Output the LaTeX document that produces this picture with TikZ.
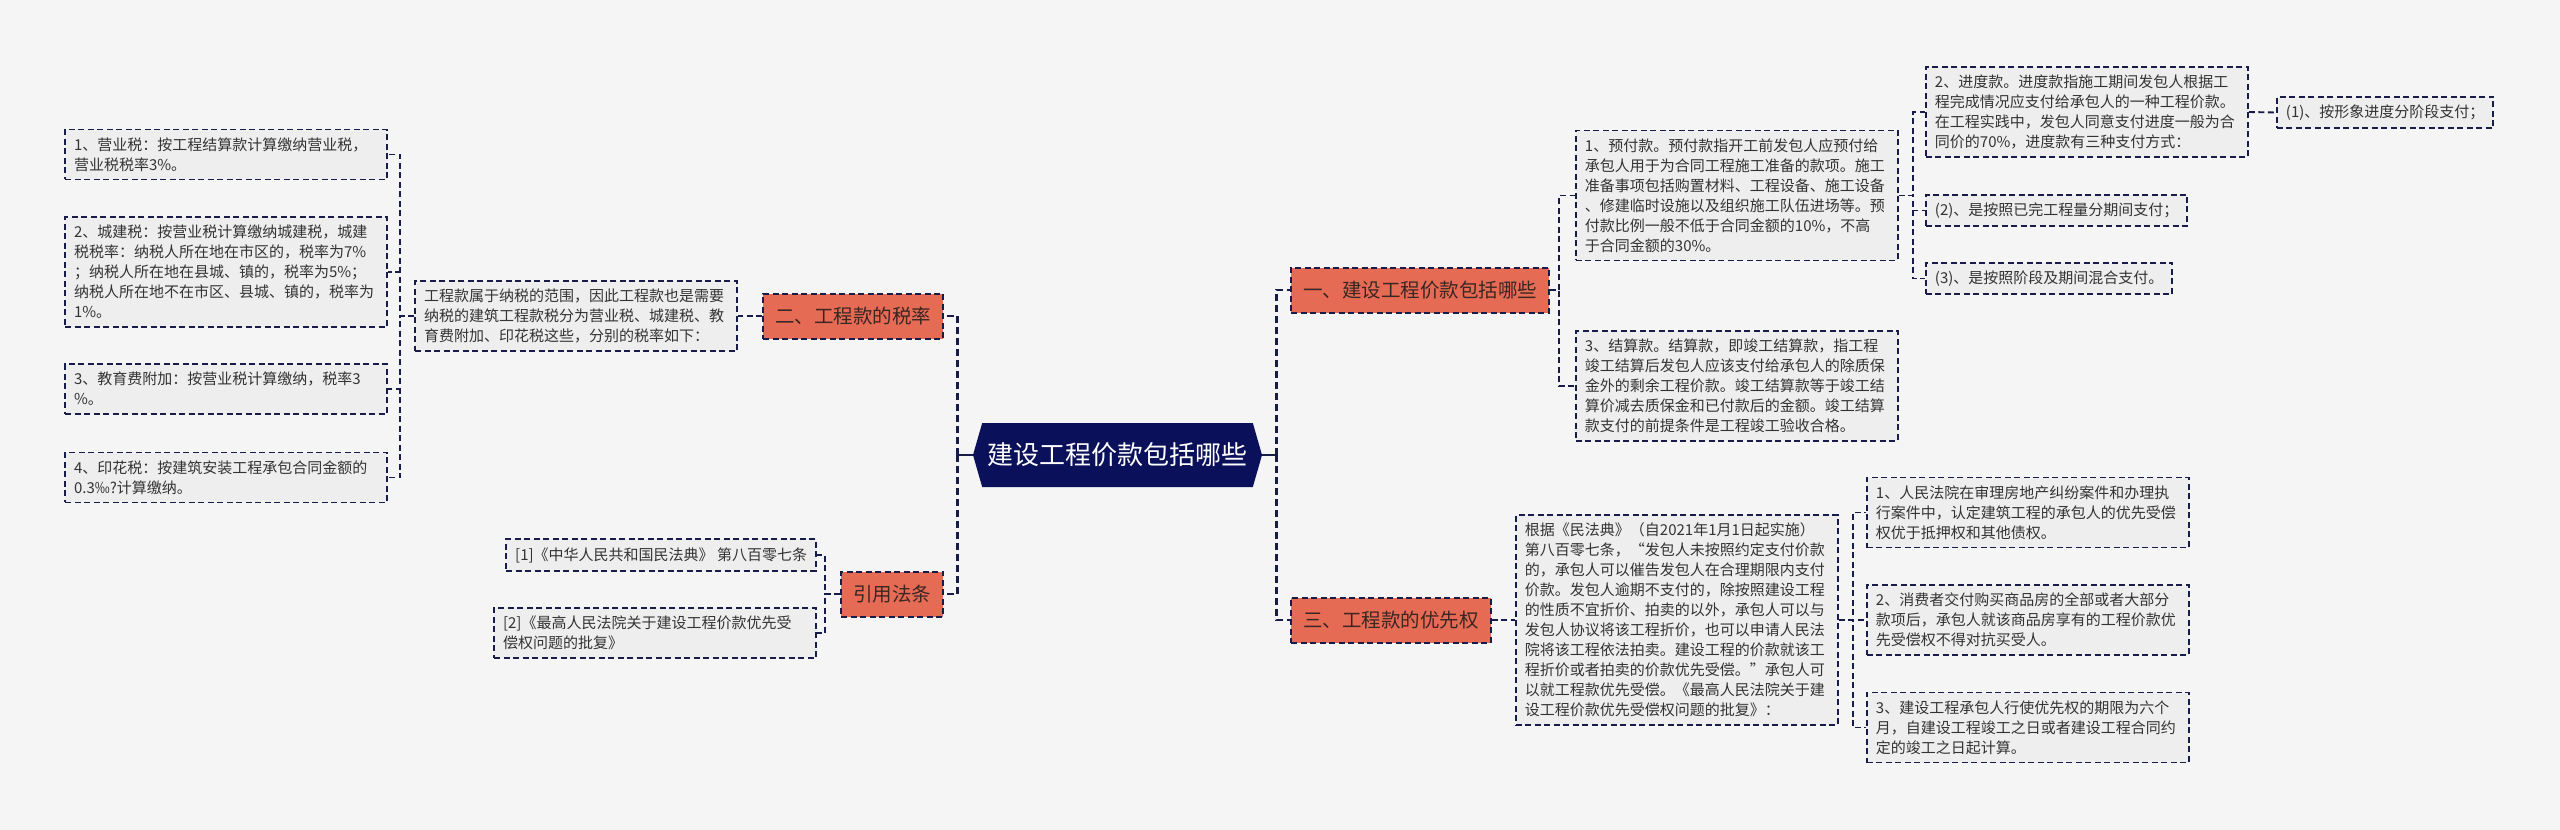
\documentclass[tikz,border=0pt]{standalone}
\usepackage{fontspec}
\setmainfont{Noto Sans CJK SC}
\usetikzlibrary{shapes.symbols}

\definecolor{paper}{HTML}{F5F5F5}
\definecolor{navy}{HTML}{0B105A}
\definecolor{inkline}{HTML}{181C48}
\definecolor{topic}{HTML}{E66B55}
\definecolor{topictext}{HTML}{3A2622}
\definecolor{leaffill}{HTML}{EEEEEE}
\definecolor{leaftext}{HTML}{333333}

\begin{document}
\begin{tikzpicture}[x=1pt,y=-1pt,
    root/.style={signal,signal to=west and east,signal pointer angle=148,fill=navy,text=white,
      minimum width=289pt,minimum height=64pt,inner xsep=2pt,font=\fontsize{26}{30}\selectfont},
    topicbox/.style={draw=inkline,dash pattern=on 6pt off 3.5pt,line width=2pt,fill=topic,
      text=topictext,minimum height=45pt,inner xsep=12pt,font=\fontsize{19.5}{24}\selectfont},
    leafbox/.style={draw=inkline,dash pattern=on 6pt off 3.5pt,line width=1.9pt,fill=leaffill,
      text=leaftext,align=left,inner xsep=9pt,inner ysep=8pt,font=\fontsize{15}{20}\selectfont},
    wide/.style={text width=304pt},
    link/.style={draw=inkline,line width=1.9pt,dash pattern=on 6pt off 3.5pt},
    trunk/.style={draw=inkline,line width=2.8pt,dash pattern=on 7pt off 4pt}]
  \fill[paper] (0,0) rectangle (2560,830);
  \useasboundingbox (0,0) rectangle (2560,830);

  % centre
  \path (1117.5,455) node[root] (C) {建设工程价款包括哪些};

  % left half
  \path (944,316) node[topicbox,anchor=east] (T2) {二、工程款的税率};
  \path (944,594) node[topicbox,anchor=east] (T4) {引用法条};
  \path (738,316) node[leafbox,wide,anchor=east] (LP) {工程款属于纳税的范围，因此工程款也是需要\\纳税的建筑工程款税分为营业税、城建税、教\\育费附加、印花税这些，分别的税率如下：};
  \path (388,154.5) node[leafbox,wide,anchor=east] (L1) {1、营业税：按工程结算款计算缴纳营业税，\\营业税税率3\%。};
  \path (388,272) node[leafbox,wide,anchor=east] (L2) {2、城建税：按营业税计算缴纳城建税，城建\\税税率：纳税人所在地在市区的，税率为7\%\\；纳税人所在地在县城、镇的，税率为5\%；\\纳税人所在地不在市区、县城、镇的，税率为\\1\%。};
  \path (388,389) node[leafbox,wide,anchor=east] (L3) {3、教育费附加：按营业税计算缴纳，税率3\\\%。};
  \path (388,477.5) node[leafbox,wide,anchor=east] (L4) {4、印花税：按建筑安装工程承包合同金额的\\0.3‰?计算缴纳。};
  \path (817,555) node[leafbox,anchor=east] (R1) {[1]《中华人民共和国民法典》 第八百零七条};
  \path (817,633) node[leafbox,wide,anchor=east] (R2) {[2]《最高人民法院关于建设工程价款优先受\\偿权问题的批复》};

  % right half
  \path (1290,290) node[topicbox,anchor=west] (T1) {一、建设工程价款包括哪些};
  \path (1290,620) node[topicbox,anchor=west] (T3) {三、工程款的优先权};
  \path (1575,195.5) node[leafbox,wide,anchor=west] (P1) {1、预付款。预付款指开工前发包人应预付给\\承包人用于为合同工程施工准备的款项。施工\\准备事项包括购置材料、工程设备、施工设备\\、修建临时设施以及组织施工队伍进场等。预\\付款比例一般不低于合同金额的10\%，不高\\于合同金额的30\%。};
  \path (1575,386) node[leafbox,wide,anchor=west] (P2) {3、结算款。结算款，即竣工结算款，指工程\\竣工结算后发包人应该支付给承包人的除质保\\金外的剩余工程价款。竣工结算款等于竣工结\\算价减去质保金和已付款后的金额。竣工结算\\款支付的前提条件是工程竣工验收合格。};
  \path (1925,112) node[leafbox,wide,anchor=west] (Q1) {2、进度款。进度款指施工期间发包人根据工\\程完成情况应支付给承包人的一种工程价款。\\在工程实践中，发包人同意支付进度一般为合\\同价的70\%，进度款有三种支付方式：};
  \path (2276,112.5) node[leafbox,anchor=west] (Q1a) {(1)、按形象进度分阶段支付；};
  \path (1925,210.5) node[leafbox,anchor=west] (Q2) {(2)、是按照已完工程量分期间支付；};
  \path (1925,278.5) node[leafbox,anchor=west] (Q3) {(3)、是按照阶段及期间混合支付。};
  \path (1515,620) node[leafbox,wide,anchor=west] (S0) {根据《民法典》（自2021年1月1日起实施）\\第八百零七条，“发包人未按照约定支付价款\\的，承包人可以催告发包人在合理期限内支付\\价款。发包人逾期不支付的，除按照建设工程\\的性质不宜折价、拍卖的以外，承包人可以与\\发包人协议将该工程折价，也可以申请人民法\\院将该工程依法拍卖。建设工程的价款就该工\\程折价或者拍卖的价款优先受偿。”承包人可\\以就工程款优先受偿。《最高人民法院关于建\\设工程价款优先受偿权问题的批复》：};
  \path (1866,512.5) node[leafbox,wide,anchor=west] (S1) {1、人民法院在审理房地产纠纷案件和办理执\\行案件中，认定建筑工程的承包人的优先受偿\\权优于抵押权和其他债权。};
  \path (1866,620) node[leafbox,wide,anchor=west] (S2) {2、消费者交付购买商品房的全部或者大部分\\款项后，承包人就该商品房享有的工程价款优\\先受偿权不得对抗买受人。};
  \path (1866,727.5) node[leafbox,wide,anchor=west] (S3) {3、建设工程承包人行使优先权的期限为六个\\月，自建设工程竣工之日或者建设工程合同约\\定的竣工之日起计算。};

  % connectors
  \draw[draw=inkline,line width=2.8pt] (C.west) -- ++(-15,0) coordinate (lj);
  \draw[draw=inkline,line width=2.8pt] (C.east) -- ++(14,0) coordinate (rj);
  \foreach \n in {T2,T4} \draw[trunk] (lj) |- (\n.east);
  \foreach \n in {T1,T3} \draw[trunk] (rj) |- (\n.west);
  \draw[link] (T2.west) -- (LP.east);
  \foreach \n in {L1,L2,L3,L4} \draw[link] (LP.west) -- ++(-14,0) |- (\n.east);
  \foreach \n in {R1,R2} \draw[link] (T4.west) -- ++(-15,0) |- (\n.east);
  \foreach \n in {P1,P2} \draw[link] (T1.east) -- ++(9,0) |- (\n.west);
  \foreach \n in {Q1,Q2,Q3} \draw[link] (P1.east) -- ++(14,0) |- (\n.west);
  \draw[link] (Q1.east) -- (Q1a.west);
  \draw[link] (T3.east) -- (S0.west);
  \foreach \n in {S1,S2,S3} \draw[link] (S0.east) -- ++(14,0) |- (\n.west);
\end{tikzpicture}
\end{document}
